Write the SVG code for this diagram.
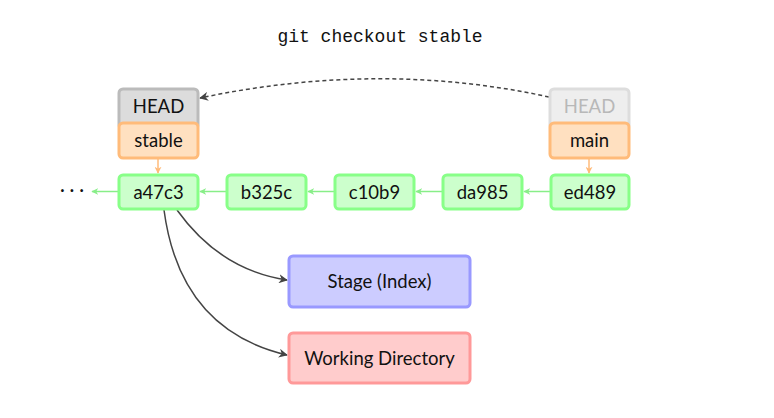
<svg xmlns="http://www.w3.org/2000/svg" width="774" height="418" viewBox="0 0 774 418">
<style>
.box{stroke-width:3}
.lbl{font-family:Lato,"Open Sans","DejaVu Sans",sans-serif;font-size:18.5px;fill:#111;text-anchor:middle}
.head rect{fill:#dcdcdc;stroke:#bbbbbb}
.headf rect{fill:#eeeeee;stroke:#dddddd}
.headf text{fill:#b8b8b8}
.branch rect{fill:#ffe0c0;stroke:#ffbb7a}
.commit rect{fill:#ccffcc;stroke:#88ff88}
.stage rect{fill:#ccccff;stroke:#9999ff}
.work rect{fill:#ffcccc;stroke:#ff9999}
.g{stroke:#88ee88;stroke-width:1.5;fill:none;marker-end:url(#ag)}
.o{stroke:#ffbb7a;stroke-width:1.5;fill:none;marker-end:url(#ao)}
.k{stroke:#444;stroke-width:1.5;fill:none;marker-end:url(#ak)}
</style>
<defs>
<marker id="ag" viewBox="0 0 10 10" refX="9" refY="5" markerWidth="7" markerHeight="7" orient="auto" markerUnits="userSpaceOnUse"><path d="M0,0 L10,5 L0,10 L3,5 Z" fill="#88ee88"/></marker>
<marker id="ao" viewBox="0 0 10 10" refX="9" refY="5" markerWidth="7" markerHeight="7" orient="auto" markerUnits="userSpaceOnUse"><path d="M0,0 L10,5 L0,10 L3,5 Z" fill="#ffbb7a"/></marker>
<marker id="ak" viewBox="0 0 10 10" refX="9" refY="5" markerWidth="9" markerHeight="9" orient="auto" markerUnits="userSpaceOnUse"><path d="M0,0 L10,5 L0,10 L3,5 Z" fill="#444"/></marker>
</defs>
<rect width="774" height="418" fill="#fff"/>
<text x="380" y="42" font-family="'Liberation Mono','DejaVu Sans Mono',monospace" font-size="18" fill="#111" text-anchor="middle">git checkout stable</text>
<g id="connectors">
<path class="g" d="M118,191.5 H92"/>
<path class="g" d="M226,191.5 H200"/>
<path class="g" d="M334,191.5 H308"/>
<path class="g" d="M442,191.5 H416"/>
<path class="g" d="M550,191.5 H524"/>
<path class="o" d="M158,159 V173"/>
<path class="o" d="M589,159 V173"/>
<path class="k" d="M549,97 Q380,60 200,98" stroke-dasharray="4,3"/>
<path class="k" d="M177,210 Q220,270 287,280"/>
<path class="k" d="M164,210 Q180,330 287,355"/>
</g>
<text x="72" y="196" class="lbl">· · ·</text>
<g id="head" class="head"><rect class="box" x="119" y="89" width="79" height="40" rx="4"/><text class="lbl" x="158.5" y="113">HEAD</text></g>
<g id="stable" class="branch"><rect class="box" x="119" y="123" width="79" height="35" rx="4"/><text class="lbl" x="158.5" y="147">stable</text></g>
<g id="headf" class="headf"><rect class="box" x="550" y="89" width="79" height="40" rx="4"/><text class="lbl" x="589.5" y="113">HEAD</text></g>
<g id="main" class="branch"><rect class="box" x="550" y="123" width="79" height="35" rx="4"/><text class="lbl" x="589.5" y="147">main</text></g>
<g id="a47c3" class="commit"><rect class="box" x="119" y="175" width="79" height="34" rx="4"/><text class="lbl" x="158.5" y="198.5">a47c3</text></g>
<g id="b325c" class="commit"><rect class="box" x="227" y="175" width="79" height="34" rx="4"/><text class="lbl" x="266.5" y="198.5">b325c</text></g>
<g id="c10b9" class="commit"><rect class="box" x="335" y="175" width="79" height="34" rx="4"/><text class="lbl" x="374.5" y="198.5">c10b9</text></g>
<g id="da985" class="commit"><rect class="box" x="443" y="175" width="79" height="34" rx="4"/><text class="lbl" x="482.5" y="198.5">da985</text></g>
<g id="ed489" class="commit"><rect class="box" x="551" y="175" width="78" height="34" rx="4"/><text class="lbl" x="590" y="198.5">ed489</text></g>
<g id="stage" class="stage"><rect class="box" x="289" y="256" width="181" height="51" rx="4"/><text class="lbl" x="379.5" y="288">Stage (Index)</text></g>
<g id="work" class="work"><rect class="box" x="289" y="333" width="181" height="50" rx="4"/><text class="lbl" x="379.5" y="364.5">Working Directory</text></g>
</svg>
